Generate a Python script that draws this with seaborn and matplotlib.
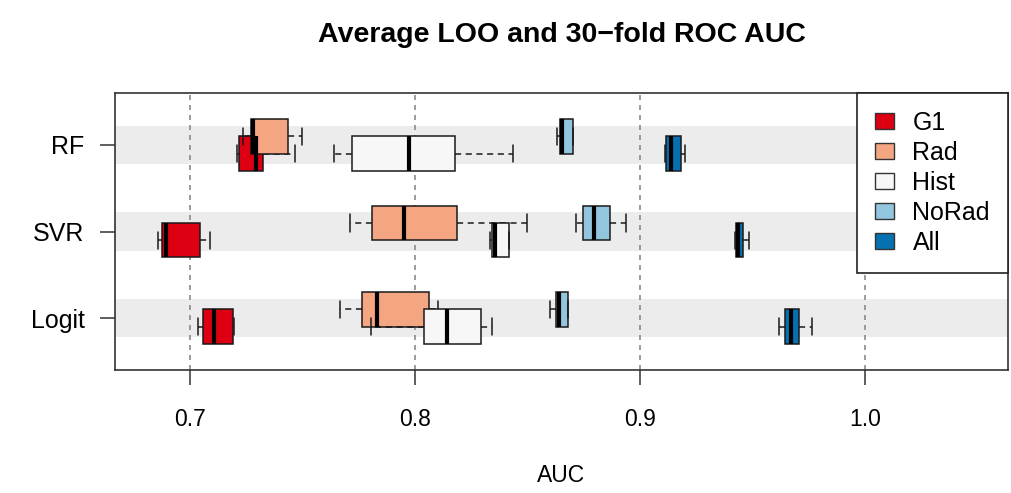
import numpy as np
import pandas as pd
import matplotlib
matplotlib.use('Agg')
import matplotlib.pyplot as plt
import seaborn as sns
from matplotlib.patches import Patch

models = ['RF', 'SVR', 'Logit']
features = ['G1', 'Rad', 'Hist', 'NoRad', 'All']

# five-number summaries: (min, q1, median, q3, max)
# one row per model, in the order RF, SVR, Logit
g1 = [[0.7210, 0.7219, 0.7292, 0.7326, 0.7467],
      [0.6856, 0.6874, 0.6893, 0.7044, 0.7089],
      [0.7037, 0.7056, 0.7108, 0.7190, 0.7195]]
rad = [[0.7236, 0.7270, 0.7279, 0.7437, 0.7500],
       [0.7711, 0.7810, 0.7951, 0.8185, 0.8496],
       [0.7667, 0.7766, 0.7830, 0.8062, 0.8104]]
hist = [[0.7641, 0.7722, 0.7975, 0.8178, 0.8437],
        [0.8333, 0.8341, 0.8356, 0.8419, 0.8420],
        [0.7804, 0.8041, 0.8144, 0.8292, 0.8341]]
norad = [[0.8630, 0.8644, 0.8652, 0.8701, 0.8702],
         [0.8716, 0.8745, 0.8797, 0.8867, 0.8938],
         [0.8600, 0.8625, 0.8640, 0.8681, 0.8682]]
all_feat = [[0.9112, 0.9114, 0.9136, 0.9182, 0.9200],
            [0.9424, 0.9425, 0.9437, 0.9459, 0.9486],
            [0.9619, 0.9644, 0.9670, 0.9707, 0.9763]]

summaries = [g1, rad, hist, norad, all_feat]
colors = ['#DC0012', '#F4A582', '#F7F7F7', '#92C5DE', '#0571B0']
xticks = [0.7, 0.8, 0.9, 1.0]

sns.set_theme(style='white')
plt.rcParams['font.family'] = ['Liberation Sans', 'DejaVu Sans']
plt.rcParams['text.color'] = 'black'
plt.rcParams['xtick.color'] = 'black'
plt.rcParams['ytick.color'] = 'black'

fig = plt.figure(figsize=(10.11, 4.93), dpi=100)
ax = fig.add_axes([115 / 1011, 1 - 370 / 493, (1008 - 115) / 1011, (370 - 93) / 493])

# grey bands behind each model row + dashed grid
for i in range(len(models)):
    ax.axhspan(i - 0.22, i + 0.22, color='#ececec', lw=0, zorder=0)
for v in xticks:
    ax.axvline(v, color='#8a8a8a', ls=(0, (3, 3)), lw=1.2, zorder=0.5)

for j, (feat, vals) in enumerate(zip(features, summaries)):
    # feature sets alternate between a lower and an upper slot in the row
    off = 0.1 if j % 2 == 0 else -0.1
    df = pd.DataFrame({
        'auc': [v for row in vals for v in row],
        'pos': [i + off for i, row in enumerate(vals) for _ in row],
    })
    sns.boxplot(data=df, x='auc', y='pos', orient='y', native_scale=True,
                width=0.4, whis=np.inf, color=colors[j], saturation=1,
                linecolor='#1a1a1a', linewidth=1.1,
                medianprops=dict(color='black', linewidth=3),
                whiskerprops=dict(linestyle=(0, (4, 3))),
                ax=ax)

ax.set_xlim(0.6667, 1.0636)
ax.set_ylim(2.6, -0.6)
ax.set_xticks(xticks, [f'{t:.1f}' for t in xticks])
ax.set_yticks(range(len(models)), models)
ax.set_xlabel('')
ax.set_ylabel('')
ax.tick_params(axis='both', direction='out', length=11, width=1.1, color='#333333',
               bottom=True, left=True)
ax.tick_params(axis='x', pad=16, labelsize=16.5)
ax.tick_params(axis='y', pad=11, labelsize=18)
for s in ax.spines.values():
    s.set_visible(True)
    s.set_color('#333333')
    s.set_linewidth(1.2)

handles = [Patch(facecolor=c, edgecolor='#333333', lw=1) for c in colors]
leg = ax.legend(handles, features, loc='upper right', bbox_to_anchor=(1, 1),
                borderaxespad=0, frameon=True, fancybox=False, edgecolor='#222222',
                framealpha=1, fontsize=18, handlelength=0.76, handleheight=0.6,
                handletextpad=0.75, borderpad=0.72, labelspacing=0.24)
leg.get_frame().set_linewidth(1.2)

fig.text((115 + 1008) / 2 / 1011, 1 - 35 / 493, 'Average LOO and 30\u2212fold ROC AUC',
         ha='center', va='center', fontsize=20.5, fontweight='bold')
fig.text((115 + 1008) / 2 / 1011, 1 - 475 / 493, 'AUC', ha='center', va='center', fontsize=16.5)

fig.savefig('out.png', dpi=100)
